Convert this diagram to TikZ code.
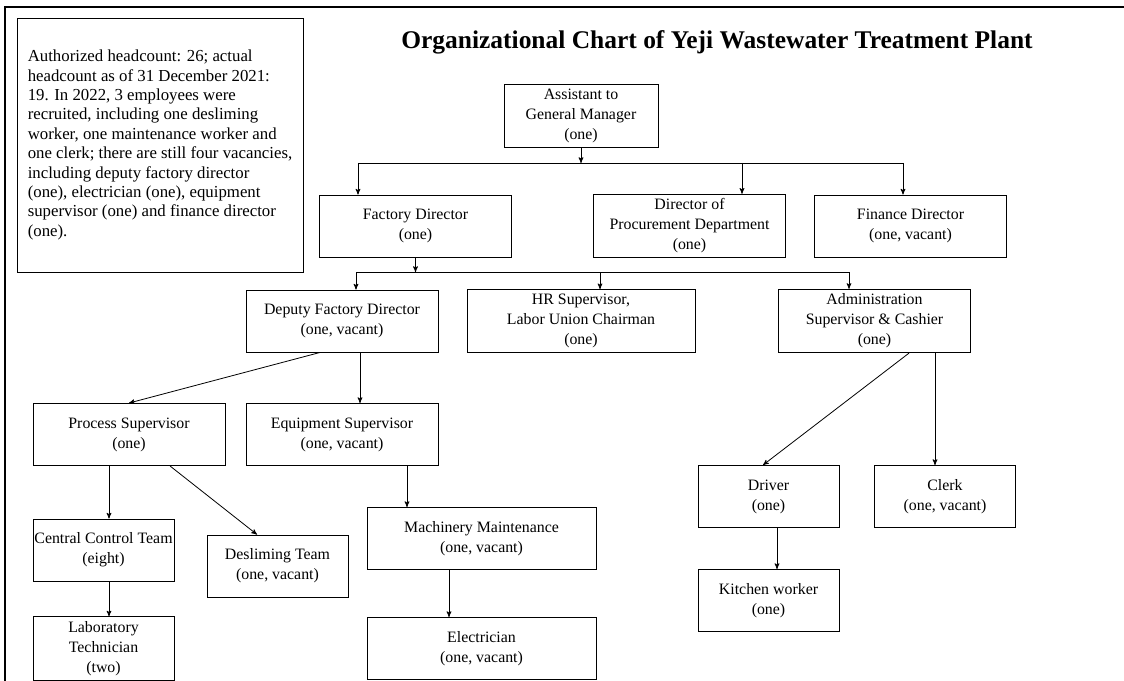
\documentclass[tikz,border=0pt]{standalone}
\usepackage{fontspec}
\setmainfont{Liberation Serif}
\usetikzlibrary{arrows,positioning,calc}

\begin{document}
\begin{tikzpicture}[->, >=stealth', semithick, x=0.75pt, y=-0.75pt,
  font=\fontsize{11.9}{15}\selectfont,
  post/.style={draw, line width=0.7pt, align=center, minimum height=46.5pt, inner xsep=1pt},
  big/.style={post, minimum width=144pt},
  small/.style={post, minimum width=105.75pt}]
\useasboundingbox (0,0) rectangle (1124,681);
\draw[-, line width=0.8pt] (5,681) -- (5,7) -- (1124,7);
\node[font=\fontsize{19.1}{23}\selectfont\bfseries] (title) at (717,42) {Organizational Chart of Yeji Wastewater Treatment Plant};
\node[post, align=left, minimum width=214.5pt, minimum height=190.5pt, font=\fontsize{12.6}{14.55}\selectfont] (note) at (160,145) {Authorized headcount: 26; actual\\ headcount as of 31 December 2021:\\ 19. In 2022, 3 employees were\\ recruited, including one desliming\\ worker, one maintenance worker and\\ one clerk; there are still four vacancies,\\ including deputy factory director\\ (one), electrician (one), equipment\\ supervisor (one) and finance director\\ (one).};
% top levels
\node[post, minimum width=115.5pt] (asst) at (581,116) {Assistant to\\ General Manager\\ (one)};
\node[big] (fd) at (415.5,226) {Factory Director\\ (one)};
\node[big] (proc) at (689.5,226) {Director of\\ Procurement Department\\ (one)};
\node[big] (fin) at (910.5,226) {Finance Director\\ (one, vacant)};
\node[big] (dep) at (342,321) {Deputy Factory Director\\ (one, vacant)};
\node[post, minimum width=171pt] (hr) at (581,321) {HR Supervisor,\\ Labor Union Chairman\\ (one)};
\node[big] (adm) at (874.5,321) {Administration\\ Supervisor \& Cashier\\ (one)};
% lower levels
\node[big] (ps) at (129,434.5) {Process Supervisor\\ (one)};
\node[big] (es) at (342,434.5) {Equipment Supervisor\\ (one, vacant)};
\node[small] (cct) at (103.5,550) {Central Control Team\\ (eight)};
\node[small] (des) at (277.5,566) {Desliming Team\\ (one, vacant)};
\node[small] (lab) at (103.5,648.5) {Laboratory\\ Technician\\ (two)};
\node[post, minimum width=171.75pt] (mm) at (481.5,538.5) {Machinery Maintenance\\ (one, vacant)};
\node[post, minimum width=171.75pt] (ele) at (481.5,648.5) {Electrician\\ (one, vacant)};
\node[small] (drv) at (768.5,496.5) {Driver\\ (one)};
\node[small] (clk) at (945,496.5) {Clerk\\ (one, vacant)};
\node[small] (kit) at (768.5,600.5) {Kitchen worker\\ (one)};
% buses
\coordinate (busA) at (358,163);
\coordinate (busB) at (903,163);
\coordinate (busC) at (356,272);
\coordinate (busD) at (849,272);
\draw (asst) -- (asst |- busA);
\draw[-] (busA) -- (busB);
\draw (busA) -- (busA |- fd.north);
\draw (busA -| 742,0) -- (proc.north -| 742,0);
\draw (busB) -- (busB |- fin.north);
\draw (fd) -- (fd |- busC);
\draw[-] (busC) -- (busD);
\draw (busC) -- (busC |- dep.north);
\draw (busC -| 600,0) -- (hr.north -| 600,0);
\draw (busD) -- (busD |- adm.north);
% branches
\draw ($(dep.south)+(-22,0)$) -- (ps.north);
\draw (dep.south -| 360,0) -- (es.north -| 360,0);
\draw (ps.south -| 109,0) -- (cct.north -| 109,0);
\draw ($(ps.south)+(41,0)$) -- ($(des.north)+(-20.5,0)$);
\draw (cct.south -| 109,0) -- (lab.north -| 109,0);
\draw (es.south -| 407,0) -- (mm.north -| 407,0);
\draw (mm.south -| 449,0) -- (ele.north -| 449,0);
\draw ($(adm.south)+(34.5,0)$) -- ($(drv.north)+(-5.5,0)$);
\draw (adm.south -| 935,0) -- (clk.north -| 935,0);
\draw (drv.south -| 777,0) -- (kit.north -| 777,0);
\end{tikzpicture}
\end{document}
